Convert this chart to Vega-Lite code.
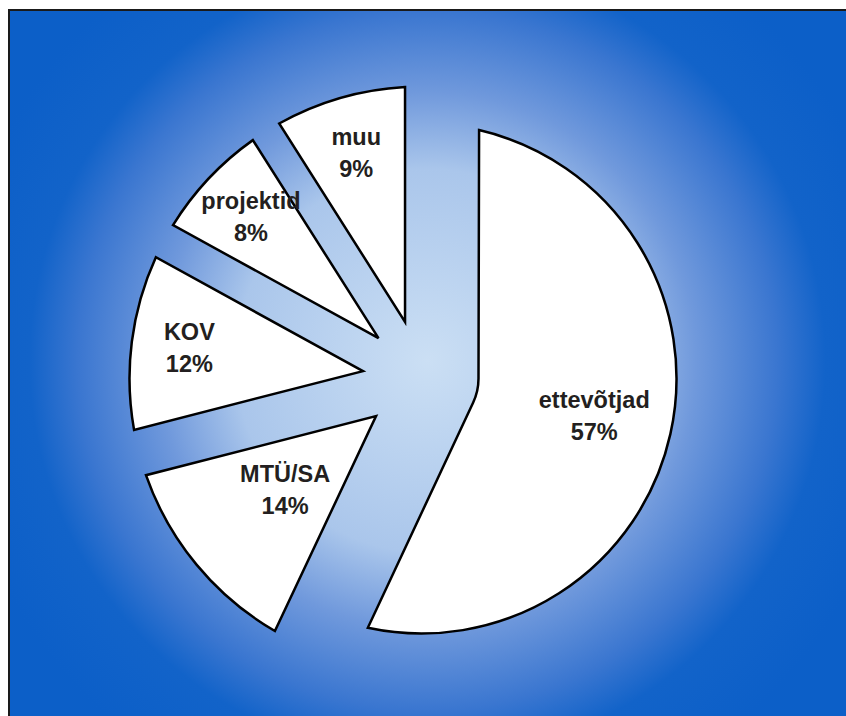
{
  "$schema": "https://vega.github.io/schema/vega-lite/v6.json",
  "width": 846,
  "height": 716,
  "autosize": {"type": "fit", "contains": "padding"},
  "padding": {"left": 8, "top": 9, "right": -11, "bottom": -32},
  "background": "white",
  "config": {"view": {"stroke": null}},
  "datasets": {
    "shares": [
      {"category": "ettevõtjad", "share": 57, "n": 1},
      {"category": "MTÜ/SA", "share": 14, "n": 2},
      {"category": "KOV", "share": 12, "n": 3},
      {"category": "projektid", "share": 8, "n": 4},
      {"category": "muu", "share": 9, "n": 5}
    ],
    "frame": [{"name": "background"}]
  },
  "layer": [
    {
      "data": {"name": "frame"},
      "mark": {
        "type": "rect",
        "stroke": "#1a1a1a",
        "strokeWidth": 2,
        "fill": {
          "gradient": "radial",
          "x1": 0.494, "y1": 0.479, "r1": 0,
          "x2": 0.494, "y2": 0.479, "r2": 0.566,
          "stops": [
            {"offset": 0, "color": "#cbdff4"},
            {"offset": 0.4, "color": "#aac6eb"},
            {"offset": 0.56, "color": "#7099dc"},
            {"offset": 0.73, "color": "#3a76d0"},
            {"offset": 0.83, "color": "#1263c9"},
            {"offset": 1, "color": "#0c5fc8"}
          ]
        }
      },
      "encoding": {
        "x": {"value": 0},
        "x2": {"value": {"expr": "width + 22"}},
        "y": {"value": 0},
        "y2": {"value": {"expr": "height"}}
      }
    },
    {
      "data": {"name": "shares"},
      "mark": {
        "type": "arc",
        "fill": "white",
        "stroke": "black",
        "strokeWidth": 2.5,
        "radius2": {"expr": "datum.share > 50 ? 57 : 59"},
        "radius": {"expr": "datum.share > 50 ? 255 : 292"},
        "padAngle": {"expr": "2*asin(59*sin(datum.share*PI/100)/sqrt(pow(datum.share > 50 ? 57 : 59, 2) + pow(datum.share > 50 ? 255 : 292, 2)))"}
      },
      "encoding": {
        "theta": {"field": "share", "type": "quantitative", "stack": true},
        "order": {"field": "n", "type": "quantitative"}
      }
    },
    {
      "data": {"name": "shares"},
      "transform": [
        {"calculate": "[datum.category, datum.share + '%']", "as": "label"}
      ],
      "mark": {
        "type": "text",
        "radius": {"expr": "datum.share >= 14 ? 177 : 234"},
        "font": "Liberation Sans",
        "fontWeight": "bold",
        "fontSize": 23.5,
        "lineHeight": 32,
        "dy": -16,
        "fill": "#231f20",
        "align": "center",
        "baseline": "middle"
      },
      "encoding": {
        "theta": {"field": "share", "type": "quantitative", "stack": true},
        "order": {"field": "n", "type": "quantitative"},
        "text": {"field": "label"}
      }
    }
  ]
}
